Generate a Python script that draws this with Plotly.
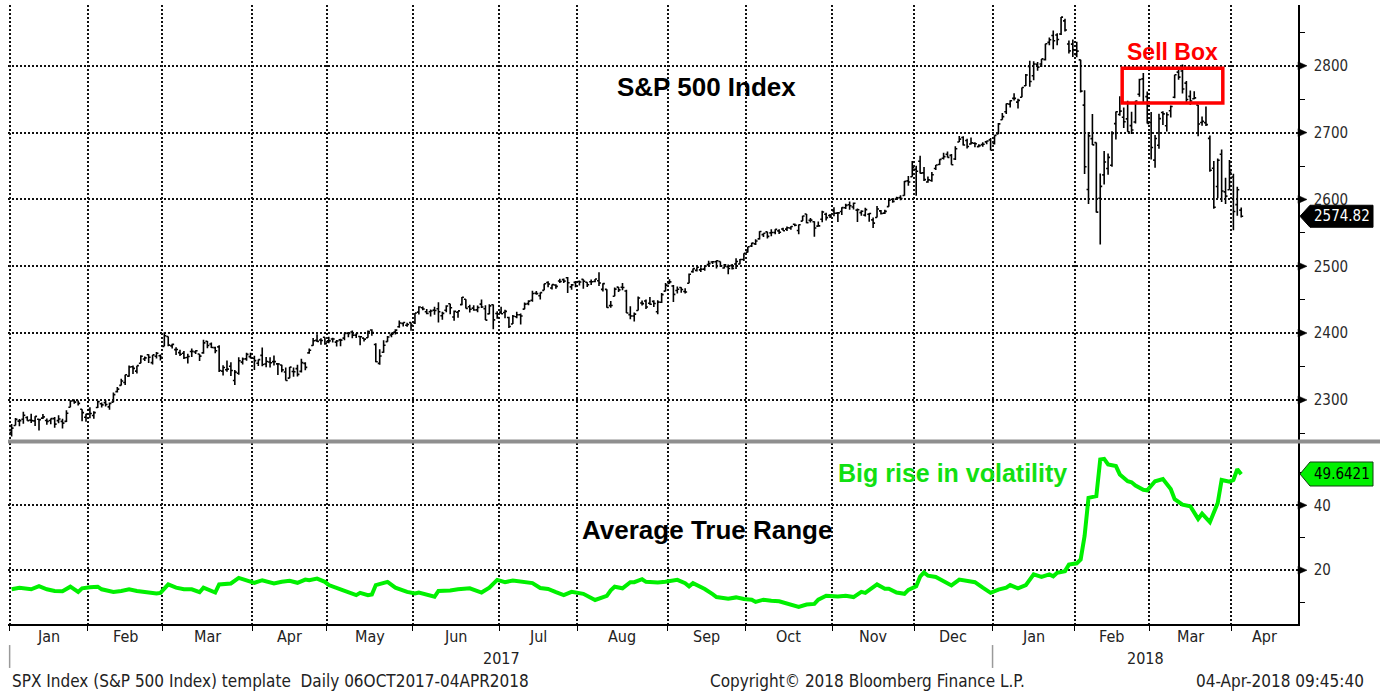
import plotly.graph_objects as go

# ---------------- DATA ----------------
# S&P 500 daily bars, trading-day index 0 = first session of Jan 2017
OPEN = [
 2251.6,2261.6,2268.2,2271.1,2273.6,2269.7,2268.6,2271.1,2272.7,2269.1,2269.1,2271.9,2269.0,2267.8,2267.9,2288.9,2298.6,2299.0,2286.0,2274.0,
 2285.6,2276.7,2288.5,2294.3,2295.9,2289.6,2296.7,2312.3,2321.7,2326.1,2335.6,2349.6,2343.0,2354.9,2361.1,2367.5,2355.7,2365.2,2366.1,
 2380.1,2394.8,2380.9,2375.2,2370.7,2369.8,2363.5,2372.5,2371.6,2368.6,2370.3,2387.7,2383.7,2378.2,2379.3,2343.0,2345.1,2350.4,2329.1,2339.8,2356.5,2361.3,2364.8,
 2362.3,2354.8,2366.6,2353.8,2356.6,2357.2,2353.9,2352.2,2341.8,2332.6,2342.5,2346.8,2342.7,2354.7,2370.3,2381.5,2389.0,2389.7,2393.7,
 2388.5,2391.1,2386.5,2389.8,2392.4,2399.9,2401.6,2396.8,2394.8,2392.4,2393.0,2404.6,2382.9,2354.7,2371.4,2387.2,2397.0,2401.4,2409.5,2414.5,2411.7,2415.6,
 2415.6,2431.3,2437.8,2431.9,2432.0,2434.3,2436.4,2425.9,2434.2,2443.8,2424.1,2431.2,2442.5,2450.7,2439.3,2437.4,2434.7,2443.3,2436.3,2428.7,2442.4,2429.2,
 2431.4,2430.8,2423.4,2413.5,2424.5,2427.4,2435.8,2444.0,2449.2,2459.5,2455.9,2463.9,2475.6,2467.4,2472.0,2477.9,2480.0,2482.8,2469.1,2475.9,
 2477.1,2480.4,2476.0,2476.9,2477.1,2478.4,2465.4,2465.4,2441.0,2455.0,2468.7,2468.6,2463.0,2427.6,2425.5,2433.8,2444.9,2447.9,2444.7,2447.4,2431.9,2446.1,2462.7,
 2474.4,2470.4,2463.8,2468.1,2462.3,2474.5,2491.9,2493.9,2494.6,2495.7,2502.5,2506.3,2506.8,2507.2,2497.3,2499.4,2501.0,2503.3,2503.4,2510.0,
 2521.2,2530.3,2533.5,2540.9,2547.4,2551.4,2550.0,2550.6,2553.0,2555.7,2555.6,2557.2,2562.9,2553.4,2567.6,2578.1,2568.7,2566.5,2560.1,2570.3,2577.8,2576.0,
 2583.2,2579.5,2581.9,2587.5,2592.1,2588.7,2584.0,2580.2,2576.5,2577.8,2569.4,2573.0,2582.9,2579.5,2589.2,2600.3,2600.4,2602.7,2605.9,2627.8,2633.9,
 2645.1,2657.2,2639.8,2626.2,2628.4,2646.2,2652.2,2661.7,2667.6,2665.9,2660.6,2685.9,2692.7,2688.2,2683.0,2684.2,2679.1,2682.1,2686.1,2689.2,
 2683.7,2697.9,2719.3,2731.3,2742.7,2751.2,2745.6,2753.0,2770.2,2799.0,2785.0,2802.4,2802.6,2809.2,2835.1,2845.4,2846.2,2847.5,2867.2,2832.7,2832.4,
 2816.5,2808.9,2741.1,2614.8,2691.0,2685.0,2601.8,2636.8,2646.3,2651.2,2713.5,2727.1,2723.0,2720.5,2710.4,2715.8,2757.4,2780.5,2753.8,
 2715.2,2658.9,2681.1,2730.2,2710.2,2732.8,2752.9,2790.5,2792.3,2774.1,2754.3,2750.6,2741.4,2715.1,2715.0,2691.4,2646.7,2619.4,2667.6,2611.3,2614.4,
 2633.5,2592.2,2584.0]
HIGH = [
 2263.9,2272.8,2271.5,2282.1,2275.5,2279.3,2275.5,2271.8,2278.7,2272.1,2272.0,2274.3,2276.9,2271.8,2284.6,2299.6,2300.4,2299.0,2286.0,2279.1,
 2289.1,2283.0,2298.3,2296.2,2299.4,2295.9,2311.1,2319.2,2331.6,2337.6,2351.3,2351.3,2351.2,2366.7,2365.1,2368.3,2367.3,2371.5,2367.8,
 2401.0,2394.8,2383.9,2378.8,2375.1,2373.1,2369.1,2376.9,2374.4,2368.6,2390.0,2388.1,2385.7,2379.6,2381.9,2351.8,2358.9,2356.2,2344.9,2363.8,2363.4,2370.4,2370.4,
 2365.9,2360.5,2378.4,2364.2,2363.8,2366.4,2355.2,2352.7,2348.3,2349.1,2348.4,2352.6,2361.4,2356.2,2377.0,2392.5,2398.2,2392.1,2393.7,
 2394.5,2392.9,2389.8,2391.4,2399.3,2401.4,2403.9,2399.7,2395.7,2392.4,2404.0,2405.8,2384.9,2375.7,2389.1,2395.5,2400.9,2405.6,2418.7,2416.0,2415.3,2416.0,
 2430.1,2440.2,2439.6,2436.2,2435.3,2439.3,2446.2,2431.9,2441.5,2443.8,2433.9,2433.2,2453.8,2450.7,2442.2,2441.6,2441.4,2450.4,2441.8,2443.0,2442.7,2432.7,
 2439.2,2434.9,2424.3,2426.9,2432.0,2429.3,2445.8,2449.3,2463.5,2462.8,2460.9,2473.8,2477.6,2472.5,2473.1,2481.2,2481.7,2484.0,2473.5,2478.0,
 2478.5,2480.4,2476.0,2480.0,2480.9,2490.9,2474.4,2465.4,2448.1,2468.2,2468.9,2474.9,2465.0,2440.3,2430.6,2454.8,2448.9,2450.4,2454.0,2449.1,2449.2,2460.1,2475.0,
 2480.4,2472.0,2469.6,2468.6,2467.1,2489.0,2496.8,2498.4,2498.4,2500.2,2508.3,2507.8,2508.9,2507.2,2503.5,2502.5,2503.5,2511.8,2510.8,2519.4,
 2529.2,2535.1,2540.5,2552.5,2549.4,2551.8,2555.2,2555.2,2555.3,2557.7,2559.5,2559.7,2564.1,2562.4,2575.4,2578.3,2572.2,2567.4,2567.1,2583.0,2580.0,2578.3,
 2588.4,2581.1,2588.4,2593.4,2597.0,2595.5,2586.5,2583.8,2587.7,2579.7,2572.8,2590.1,2584.0,2584.6,2601.2,2600.9,2604.2,2606.4,2627.7,2634.9,2657.7,
 2650.6,2665.2,2648.7,2634.4,2641.0,2651.7,2660.3,2669.7,2671.9,2668.1,2679.6,2695.0,2694.4,2691.0,2692.6,2685.4,2682.7,2685.6,2687.7,2692.1,
 2695.9,2714.4,2729.3,2743.5,2748.5,2759.1,2750.8,2767.6,2787.9,2807.5,2807.0,2805.8,2810.3,2833.0,2842.2,2853.0,2848.6,2872.9,2870.6,2837.8,2839.3,
 2836.0,2808.9,2763.4,2701.0,2727.7,2685.3,2638.7,2672.6,2668.8,2702.1,2731.5,2754.4,2737.6,2747.8,2731.3,2747.8,2780.6,2789.2,2761.5,
 2730.9,2696.3,2728.1,2732.1,2730.6,2740.5,2786.6,2797.0,2801.9,2777.1,2763.0,2761.9,2741.4,2724.2,2739.1,2695.7,2657.7,2661.4,2674.8,2632.6,2659.1,
 2638.3,2619.1,2588.0]
LOW = [
 2245.1,2261.6,2260.5,2264.1,2268.8,2265.3,2260.8,2254.3,2271.5,2262.8,2263.4,2258.4,2265.0,2257.0,2266.8,2288.9,2294.1,2291.6,2268.0,2267.2,
 2272.4,2271.7,2287.9,2288.6,2290.2,2285.4,2296.6,2311.1,2321.4,2322.2,2334.8,2338.9,2339.6,2354.9,2358.3,2355.1,2352.9,2361.9,2358.8,
 2380.1,2380.2,2376.9,2367.0,2365.5,2361.0,2354.5,2364.2,2368.5,2358.2,2368.9,2377.2,2377.6,2369.7,2341.9,2336.5,2342.1,2335.7,2322.3,2337.6,2352.9,2358.6,2362.0,
 2344.7,2350.7,2350.5,2348.9,2348.3,2351.5,2337.3,2341.2,2328.9,2332.5,2334.5,2335.1,2340.9,2344.5,2369.2,2381.2,2386.8,2382.4,2382.4,
 2384.8,2385.8,2379.8,2380.4,2389.4,2393.6,2392.4,2392.8,2381.7,2387.2,2393.0,2396.1,2356.2,2352.7,2370.4,2386.9,2393.9,2398.0,2408.0,2410.0,2409.4,2403.6,
 2413.5,2427.7,2434.3,2428.1,2424.8,2427.4,2415.7,2420.0,2431.3,2428.3,2418.5,2422.9,2441.8,2436.6,2430.7,2433.3,2431.1,2437.6,2419.4,2428.0,2405.7,2421.6,
 2428.7,2422.1,2407.7,2413.5,2422.3,2412.8,2435.8,2441.7,2446.7,2457.2,2450.3,2463.9,2468.4,2465.1,2466.3,2474.9,2474.9,2459.9,2464.7,2468.5,
 2471.1,2466.5,2468.9,2472.1,2475.9,2470.3,2462.1,2437.8,2437.9,2455.0,2461.6,2463.9,2430.0,2420.7,2417.4,2433.7,2441.4,2436.2,2442.2,2439.0,2428.2,2445.0,2462.7,
 2473.9,2446.6,2459.2,2460.3,2459.4,2474.5,2490.4,2492.1,2491.4,2493.2,2499.9,2503.2,2496.7,2499.0,2496.5,2488.0,2495.1,2495.9,2502.9,2508.0,
 2520.4,2528.9,2531.8,2540.0,2543.8,2541.6,2544.9,2548.0,2548.3,2553.0,2552.6,2554.7,2559.7,2547.9,2567.6,2564.3,2565.6,2544.0,2559.8,2565.9,2568.3,2572.2,
 2574.9,2566.2,2576.8,2585.7,2584.4,2585.0,2566.3,2575.6,2574.5,2566.6,2557.4,2573.0,2577.6,2578.2,2589.2,2595.0,2600.4,2598.9,2605.4,2620.3,2633.9,
 2605.5,2639.0,2627.7,2624.8,2626.5,2644.1,2651.5,2659.8,2662.9,2652.0,2659.1,2685.9,2680.7,2676.1,2682.4,2678.1,2678.0,2678.9,2682.7,2673.6,
 2682.4,2697.8,2719.1,2727.9,2737.6,2747.9,2736.1,2752.8,2769.6,2768.6,2778.4,2792.6,2798.1,2808.1,2830.6,2824.8,2830.9,2846.2,2851.5,2818.3,2813.0,
 2812.7,2760.0,2638.2,2593.1,2681.3,2580.6,2532.7,2622.5,2637.1,2648.9,2689.8,2725.1,2706.8,2701.3,2697.8,2713.7,2753.8,2744.2,2713.5,
 2659.7,2647.3,2675.8,2711.3,2701.7,2722.7,2751.5,2779.3,2758.7,2744.4,2741.5,2750.0,2694.6,2710.1,2709.8,2641.6,2585.9,2601.8,2596.1,2593.1,2614.4,
 2553.8,2575.5,2573.0]
CLOSE = [
 2257.8,2270.8,2269.0,2277.0,2268.9,2268.9,2275.3,2270.4,2274.6,2267.9,2271.9,2263.7,2271.3,2265.2,2280.1,2298.4,2296.7,2294.7,2280.9,2278.9,
 2279.6,2280.9,2297.4,2292.6,2293.1,2294.7,2307.9,2316.1,2328.3,2337.6,2349.3,2347.2,2351.2,2365.4,2362.8,2363.8,2367.3,2369.8,2363.6,
 2396.0,2381.9,2383.1,2375.3,2368.4,2363.0,2364.9,2372.6,2373.5,2365.5,2385.3,2381.4,2378.3,2373.5,2344.0,2348.5,2346.0,2344.0,2341.6,2358.6,2361.1,2368.1,2362.7,
 2358.8,2360.2,2353.0,2357.5,2355.5,2357.2,2353.8,2344.9,2329.0,2349.0,2342.2,2338.2,2355.8,2348.7,2374.2,2388.6,2387.5,2388.8,2384.2,
 2388.3,2391.2,2388.1,2389.5,2399.3,2399.4,2396.9,2399.6,2394.4,2390.9,2402.3,2400.7,2357.0,2365.7,2381.7,2394.0,2398.4,2404.4,2415.1,2415.8,2412.9,2411.8,
 2430.1,2439.1,2436.1,2429.3,2433.1,2433.8,2431.8,2429.4,2440.4,2437.9,2432.5,2433.2,2453.5,2437.0,2435.6,2434.5,2438.3,2439.1,2419.4,2440.7,2419.7,2423.4,
 2429.0,2432.5,2409.8,2425.2,2427.4,2425.5,2443.3,2447.8,2459.3,2459.1,2460.6,2473.8,2473.5,2472.5,2469.9,2477.1,2477.8,2475.4,2472.1,2470.3,
 2476.4,2477.6,2472.2,2476.8,2480.9,2474.9,2474.0,2438.2,2441.3,2465.8,2464.6,2468.1,2430.0,2425.6,2428.4,2452.5,2444.0,2439.0,2443.1,2444.2,2446.3,2457.6,2471.7,
 2476.6,2457.9,2465.5,2465.1,2461.4,2488.1,2496.5,2498.4,2495.6,2500.2,2503.9,2506.7,2508.2,2500.6,2502.2,2496.7,2496.8,2507.0,2510.1,2519.4,
 2529.1,2534.6,2537.7,2552.1,2549.3,2544.7,2550.6,2555.2,2550.9,2553.2,2557.6,2559.4,2561.3,2562.1,2575.2,2565.0,2569.1,2557.2,2560.4,2581.1,2572.8,2575.3,
 2579.4,2579.9,2587.8,2591.1,2590.6,2594.4,2584.6,2582.3,2584.8,2578.9,2564.6,2585.6,2578.9,2582.1,2599.0,2597.1,2602.4,2601.4,2627.0,2626.1,2647.6,
 2642.2,2639.4,2629.6,2629.3,2637.0,2651.5,2660.0,2664.1,2662.9,2652.0,2675.8,2690.2,2681.5,2679.3,2684.6,2683.3,2680.5,2682.6,2687.5,2673.6,
 2695.8,2713.1,2724.0,2743.2,2747.7,2751.3,2748.2,2767.6,2786.2,2776.4,2802.6,2798.0,2810.3,2833.0,2839.1,2837.5,2839.3,2872.9,2853.5,2822.4,2823.8,
 2822.0,2762.1,2648.9,2695.1,2681.7,2581.0,2619.6,2656.0,2662.9,2698.6,2731.2,2732.2,2716.3,2701.3,2704.0,2747.3,2779.6,2744.3,2713.8,
 2677.7,2691.3,2720.9,2728.1,2726.8,2739.0,2786.6,2783.0,2765.3,2749.5,2747.3,2752.0,2712.9,2716.9,2711.9,2643.7,2588.3,2658.6,2612.6,2605.0,2640.9,
 2581.9,2614.5,2574.82]
DAY_IDX = list(range(len(CLOSE)))

# Average True Range, read at (trading-day index, value)
ATR_IDX = [0,2,5,7,9,11,13,15,17,18,20,22,23,26,28,30,32,35,37,38,40,42,44,46,48,49,52,53,56,58,62,64,67,69,71,73,75,76,78,80,
 81,84,86,88,89,91,92,93,96,98,101,103,104,106,108,109,112,114,117,120,122,124,126,128,131,133,135,137,139,141,143,145,146,149,152,153,
 154,156,158,159,161,162,165,167,170,172,173,174,177,179,180,183,185,187,189,190,192,194,196,201,203,205,206,208,211,213,215,217,218,221,
 223,224,226,228,229,231,232,233,234,236,238,240,242,244,246,248,250,252,254,255,257,259,261,263,265,266,267,269,270,272,273,274,275,277,
 278,279,280,282,283,285,286,287,289,290,292,294,296,297,298,299,301,303,304,306,308,309,311,312,313,314]
ATR_VAL = [14.1,14.6,14.1,15.1,14.1,13.6,13.5,14.9,13.3,14.4,14.7,14.9,14.1,13.3,13.6,14.1,13.6,13.2,12.8,13.0,15.6,14.6,14.1,14.1,13.2,14.6,13.1,15.6,15.9,17.6,16.1,16.9,15.9,16.4,16.7,16.1,17.1,16.9,17.4,16.4,
 15.4,14.1,13.3,12.3,13.0,12.3,12.5,15.4,16.4,14.6,13.3,12.8,13.1,12.3,11.8,13.6,13.7,14.1,14.4,13.1,14.6,17.0,16.3,16.8,16.3,16.0,14.5,14.2,13.2,12.3,13.3,12.7,12.7,10.8,12.1,13.8,
 14.9,14.4,16.3,16.3,17.2,16.4,16.2,16.4,17.0,16.0,15.0,16.0,14.2,12.6,11.7,11.2,11.6,11.1,10.9,10.2,10.9,10.6,10.4,8.7,9.4,9.6,10.9,12.1,11.9,12.1,11.7,13.3,13.0,15.6,
 14.3,14.3,13.1,12.7,13.9,15.0,18.0,19.3,18.3,17.9,16.6,15.3,17.1,16.6,16.3,14.6,13.0,14.0,14.6,15.4,14.4,15.4,18.7,17.9,18.7,18.1,19.2,19.7,21.7,22.1,23.3,30.5,42.3,42.8,
 54.1,54.3,52.6,52.1,49.5,47.4,47.1,46.1,44.8,44.6,47.4,48.1,45.0,41.9,41.2,40.2,39.7,35.8,37.4,34.8,40.7,47.8,47.3,47.8,51.1,49.6]

MONTH_START = [0, 20, 39, 62, 81, 103, 125, 145, 168, 188, 210, 231, 251, 272, 291, 312]
MONTH_LABELS = ["Jan", "Feb", "Mar", "Apr", "May", "Jun", "Jul", "Aug", "Sep", "Oct", "Nov", "Dec",
                "Jan", "Feb", "Mar", "Apr"]
YEAR_START = [0, 251]
YEAR_LABELS = ["2017", "2018"]
PRICE_TICKS = [2300, 2400, 2500, 2600, 2700, 2800]
PRICE_MINOR = [2250, 2350, 2450, 2550, 2650, 2750, 2850]
ATR_TICKS = [20, 40]
ATR_MINOR = [10, 30, 50]
LAST_PRICE = 2574.82
LAST_ATR = 49.6421
SELL_BOX = dict(x0=283.6, x1=309.3, y0=2744.4, y1=2796.4)

# ---------------- FIGURE ----------------
X_RANGE = [-0.92, 328.5]
PRICE_RANGE = [2240, 2891]
ATR_RANGE = [3.4, 59.2]
TOP_DOM = [0.2973, 1.0]
BOT_DOM = [0.0, 0.2924]

AXFONT = "DejaVu Sans Condensed, Liberation Sans Narrow, Liberation Sans, sans-serif"
BOLD = "Liberation Sans, Arial, sans-serif"
GREEN = "#00f000"
GRIDDASH = "2px,2px"
GRIDCOLOR = "#111111"

fig = go.Figure()
fig.add_trace(go.Ohlc(
    x=DAY_IDX, open=OPEN, high=HIGH, low=LOW, close=CLOSE,
    increasing=dict(line=dict(color="black", width=1.6)),
    decreasing=dict(line=dict(color="black", width=1.6)),
    tickwidth=0.5, hoverinfo="skip", xaxis="x", yaxis="y"))
fig.add_trace(go.Scatter(
    x=ATR_IDX, y=ATR_VAL, mode="lines",
    line=dict(color=GREEN, width=4), hoverinfo="skip", xaxis="x2", yaxis="y2"))

bounds = [m - 0.5 for m in MONTH_START]

common_x = dict(range=X_RANGE, tickvals=bounds, showticklabels=False, showgrid=True,
                gridcolor=GRIDCOLOR, gridwidth=1.5, griddash=GRIDDASH, zeroline=False)
fig.update_layout(
    width=1380, height=691,
    margin=dict(l=8, r=82, t=5, b=67),
    paper_bgcolor="white", plot_bgcolor="white", showlegend=False,
    xaxis=dict(**common_x, domain=[0, 1], anchor="y", ticks="", showline=False,
               rangeslider=dict(visible=False)),
    xaxis2=dict(**common_x, domain=[0, 1], anchor="y2", matches="x", ticks="outside",
                ticklen=5, tickcolor="black", tickwidth=1,
                showline=True, linecolor="black", linewidth=1.5),
    yaxis=dict(domain=TOP_DOM, anchor="x", side="right", range=PRICE_RANGE,
               tickvals=PRICE_TICKS, ticktext=[str(v) for v in PRICE_TICKS],
               showgrid=True, gridcolor=GRIDCOLOR, gridwidth=1.5, griddash=GRIDDASH, zeroline=False,
               showline=True, linecolor="black", linewidth=1.5,
               ticks="outside", ticklen=11, tickcolor="rgba(0,0,0,0)",
               tickfont=dict(family=AXFONT, size=15, color="#2a2a2a"),
               minor=dict(tickvals=PRICE_MINOR, ticks="outside", ticklen=5,
                          tickcolor="black", tickwidth=1, showgrid=False)),
    yaxis2=dict(domain=BOT_DOM, anchor="x2", side="right", range=ATR_RANGE,
                tickvals=ATR_TICKS, showgrid=True, gridcolor=GRIDCOLOR, gridwidth=1.5,
                griddash=GRIDDASH, zeroline=False,
                showline=True, linecolor="black", linewidth=1.5,
                ticks="outside", ticklen=11, tickcolor="rgba(0,0,0,0)",
                tickfont=dict(family=AXFONT, size=15, color="#2a2a2a"),
                minor=dict(tickvals=ATR_MINOR, ticks="outside", ticklen=5,
                           tickcolor="black", tickwidth=1, showgrid=False)),
)

shapes = []
# sell box
shapes.append(dict(type="rect", xref="x", yref="y", **SELL_BOX,
                   line=dict(color="#ff0000", width=3.5), fillcolor="rgba(0,0,0,0)"))
# separator between the panels
shapes.append(dict(type="line", xref="paper", yref="paper", x0=0, x1=1.07,
                   y0=0.2948, y1=0.2948, line=dict(color="#8f8f8f", width=4)))
# year separators under the axis
for ys in YEAR_START:
    shapes.append(dict(type="line", xref="x2", yref="paper", x0=ys - 0.5, x1=ys - 0.5,
                       y0=-0.034, y1=-0.071, line=dict(color="#9a9a9a", width=1.5)))
# triangle tick markers
for v in PRICE_TICKS:
    shapes.append(dict(type="path", xref="paper", yref="y", xsizemode="pixel", ysizemode="pixel",
                       xanchor=1, yanchor=v, path="M0,4 L9,0 L0,-4 Z",
                       fillcolor="black", line=dict(color="black", width=0.5)))
for v in ATR_TICKS:
    shapes.append(dict(type="path", xref="paper", yref="y2", xsizemode="pixel", ysizemode="pixel",
                       xanchor=1, yanchor=v, path="M0,4 L9,0 L0,-4 Z",
                       fillcolor="black", line=dict(color="black", width=0.5)))
# last value tags
shapes.append(dict(type="path", xref="paper", yref="y", xsizemode="pixel", ysizemode="pixel",
                   xanchor=1, yanchor=LAST_PRICE, path="M2,0 L12,11 L75,11 L75,-11 L12,-11 Z",
                   fillcolor="black", line=dict(color="black", width=1)))
shapes.append(dict(type="path", xref="paper", yref="y2", xsizemode="pixel", ysizemode="pixel",
                   xanchor=1, yanchor=LAST_ATR, path="M2,0 L12,12 L75,12 L75,-12 L12,-12 Z",
                   fillcolor=GREEN, line=dict(color="#104010", width=1)))
fig.update_layout(shapes=shapes)

ann = []
ann.append(dict(text="<b>S&P 500 Index</b>", xref="paper", yref="paper", x=0.5411, y=0.8675,
                showarrow=False, font=dict(family=BOLD, size=26, color="black"), xanchor="center", yanchor="middle"))
ann.append(dict(text="<b>Average True Range</b>", xref="paper", yref="paper", x=0.5419, y=0.1519,
                showarrow=False, font=dict(family=BOLD, size=26, color="black"), xanchor="center", yanchor="middle"))
ann.append(dict(text="<b>Big rise in volatility</b>", xref="paper", yref="paper", x=0.7318, y=0.2439,
                showarrow=False, font=dict(family=BOLD, size=25, color="#11e011"), xanchor="center", yanchor="middle"))
ann.append(dict(text="<b>Sell Box</b>", xref="paper", yref="paper", x=0.9031, y=0.9241,
                showarrow=False, font=dict(family=BOLD, size=23, color="#ff0000"), xanchor="center", yanchor="middle"))
# month labels
ends = MONTH_START[1:] + [X_RANGE[1] + 0.5]
for s, e, lab in zip(MONTH_START, ends, MONTH_LABELS):
    lo = max(s - 0.5, X_RANGE[0])
    hi = min(e - 0.5, X_RANGE[1])
    ann.append(dict(text=lab, xref="x2", yref="paper", x=(lo + hi) / 2, y=-0.021,
                    showarrow=False, xanchor="center", yanchor="middle",
                    font=dict(family=AXFONT, size=16, color="#222")))
# year labels
yends = YEAR_START[1:] + [X_RANGE[1] + 0.5]
for s, e, lab in zip(YEAR_START, yends, YEAR_LABELS):
    ann.append(dict(text=lab, xref="x2", yref="paper", x=(s - 0.5 + e - 0.5) / 2, y=-0.0565,
                    showarrow=False, xanchor="center", yanchor="middle",
                    font=dict(family=AXFONT, size=16, color="#222")))
# footer
FOOT = dict(family=AXFONT, size=17, color="#222")
ann.append(dict(text="SPX Index (S&P 500 Index) template \u00a0Daily 06OCT2017-04APR2018",
                xref="paper", yref="paper", x=0.0016, y=-0.092, showarrow=False,
                xanchor="left", yanchor="middle", font=FOOT))
ann.append(dict(text="Copyright\u00a9 2018 Bloomberg Finance L.P.",
                xref="paper", yref="paper", x=0.5426, y=-0.092, showarrow=False,
                xanchor="left", yanchor="middle", font=FOOT))
ann.append(dict(text="04-Apr-2018 09:45:40",
                xref="paper", yref="paper", x=1.0527, y=-0.092, showarrow=False,
                xanchor="right", yanchor="middle", font=FOOT))
# tag texts
ann.append(dict(text=f"{LAST_PRICE:.2f}", xref="paper", yref="y", x=1, y=LAST_PRICE, xshift=44,
                showarrow=False, xanchor="center", yanchor="middle",
                font=dict(family=AXFONT, size=15, color="white")))
ann.append(dict(text=f"{LAST_ATR:.4f}", xref="paper", yref="y2", x=1, y=LAST_ATR, xshift=44,
                showarrow=False, xanchor="center", yanchor="middle",
                font=dict(family=AXFONT, size=15, color="black")))
fig.update_layout(annotations=ann)

fig.write_html("out.html", config={"displayModeBar": False},
               post_script="document.body.style.margin='0';document.body.style.overflow='hidden';")
